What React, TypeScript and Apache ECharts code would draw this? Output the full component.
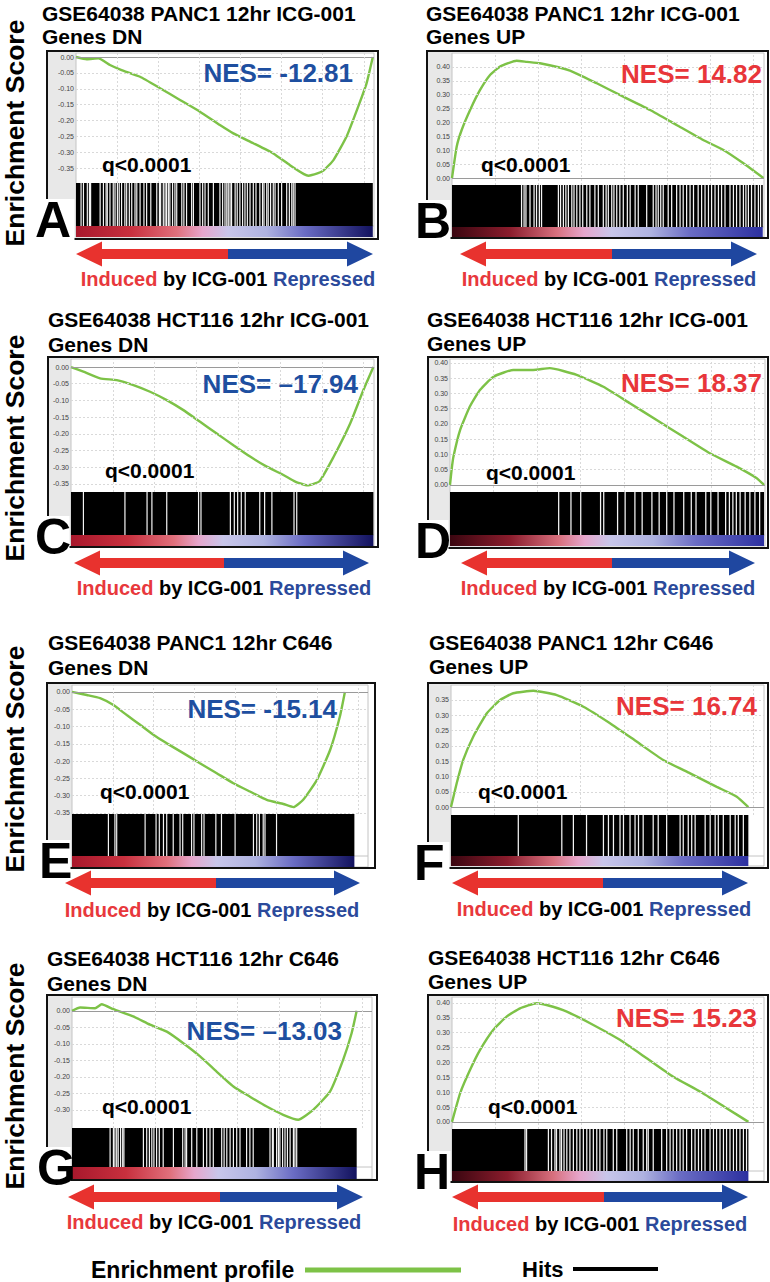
import React, { useEffect, useRef } from "react";
import * as echarts from "echarts";

// ---------------- data ----------------
const panelLetters = ["A", "B", "C", "D", "E", "F", "G", "H"];
const titleLine1 = [
  "GSE64038 PANC1 12hr ICG-001",
  "GSE64038 PANC1 12hr ICG-001",
  "GSE64038 HCT116 12hr ICG-001",
  "GSE64038 HCT116 12hr ICG-001",
  "GSE64038 PANC1 12hr C646",
  "GSE64038 PANC1 12hr C646",
  "GSE64038 HCT116 12hr C646",
  "GSE64038 HCT116 12hr C646",
];
const titleLine2 = ["Genes DN", "Genes UP", "Genes DN", "Genes UP", "Genes DN", "Genes UP", "Genes DN", "Genes UP"];
const nesLabels = [
  "NES= -12.81",
  "NES= 14.82",
  "NES= \u201317.94",
  "NES= 18.37",
  "NES= -15.14",
  "NES= 16.74",
  "NES= \u201313.03",
  "NES= 15.23",
];
const isUp = [false, true, false, true, false, true, false, true];
const qLabel = "q<0.0001";

// x = rank position in % of the plot frame, y = running enrichment score
const curveA = [[0,0],[3.6,-0.007],[7.5,-0.004],[11.4,-0.025],[15.3,-0.041],[21.5,-0.062],[28.2,-0.098],[34.9,-0.135],[41.6,-0.172],[48.3,-0.214],[52.8,-0.240],[59.5,-0.271],[66.2,-0.303],[71.8,-0.340],[76.5,-0.368],[78.0,-0.373],[81.0,-0.366],[83.0,-0.357],[86.4,-0.324],[90.8,-0.250],[94.7,-0.156],[97.5,-0.083],[99.6,0]];
const curveB = [[0,0],[1.5,0.113],[3.1,0.173],[5.8,0.245],[9.0,0.317],[12.2,0.371],[15.4,0.401],[20.7,0.422],[24,0.418],[28.2,0.413],[37.8,0.387],[46.4,0.341],[54.9,0.293],[63.5,0.245],[72.0,0.191],[80.5,0.137],[87.0,0.101],[93.4,0.053],[99.8,0]];
const curveC = [[0,0],[4.1,-0.014],[9.6,-0.034],[15.1,-0.039],[20.6,-0.054],[26.1,-0.074],[31.6,-0.099],[37.1,-0.129],[42.6,-0.164],[48.1,-0.199],[53.6,-0.234],[59.1,-0.268],[64.6,-0.298],[70.1,-0.323],[74.0,-0.343],[78.0,-0.354],[82.0,-0.342],[86.6,-0.270],[92.1,-0.170],[96.5,-0.069],[99.8,0]];
const curveD = [[0,0],[0.5,0.049],[1.1,0.093],[3.2,0.180],[6.3,0.257],[9.5,0.311],[13.8,0.355],[20.1,0.377],[26.4,0.377],[31.7,0.383],[40.2,0.361],[48.7,0.322],[57.1,0.268],[65.6,0.213],[74.1,0.158],[82.5,0.104],[91.0,0.060],[97.4,0.022],[99.7,0]];
const curveE = [[0,0],[5.0,-0.009],[9.5,-0.018],[14.0,-0.038],[18.5,-0.067],[23.0,-0.095],[27.5,-0.124],[31.9,-0.148],[37.6,-0.177],[43.2,-0.206],[48.9,-0.235],[54.5,-0.264],[60.1,-0.288],[65.8,-0.312],[71.4,-0.324],[74.8,-0.333],[78.1,-0.312],[82.7,-0.255],[87.2,-0.168],[90.5,-0.071],[92.2,0]];
const curveF = [[0,0],[1.8,0.077],[3.9,0.154],[7.1,0.230],[11.4,0.306],[15.7,0.350],[19.9,0.372],[26.3,0.380],[33.8,0.366],[42.3,0.328],[50.8,0.274],[59.3,0.214],[67.8,0.154],[76.4,0.110],[84.9,0.066],[91.3,0.034],[95.0,0]];
const curveG = [[0,0],[2.7,0.010],[7.7,0.008],[9.9,0.020],[13.8,0.005],[20.4,-0.017],[26.0,-0.042],[31.6,-0.063],[37.1,-0.098],[42.7,-0.138],[48.2,-0.184],[53.8,-0.229],[59.3,-0.260],[64.9,-0.290],[70.4,-0.315],[75.4,-0.330],[80.4,-0.300],[86.0,-0.245],[90.4,-0.148],[93.2,-0.068],[94.9,0]];
const curveH = [[0,0],[2.6,0.096],[5.8,0.175],[9.0,0.242],[13.2,0.309],[17.5,0.354],[21.8,0.382],[27.1,0.399],[30.3,0.393],[36.8,0.371],[45.3,0.326],[53.8,0.276],[62.4,0.214],[70.9,0.152],[79.5,0.102],[88.0,0.046],[95.0,0]];
const curves = [curveA, curveB, curveC, curveD, curveE, curveF, curveG, curveH];

// positions (% of frame) where the hit barcode has white gaps
const gapsA = [1.7,2.5,3.8,4.5,4.9,8.1,9.2,10.1,10.5,11.4,12.5,13.1,13.9,14.5,15.3,16.4,17.0,17.9,18.7,19.8,20.4,21.5,22.8,23.7,25.1,27.1,28.0,28.4,29.3,29.9,30.4,31.0,31.5,32.4,33.2,33.8,35.5,36.2,37.1,38.8,39.4,41.6,42.5,43.3,44.4,46.1,48.3,49.2,50.0,50.6,51.1,51.7,52.2,53.4,54.1,55.0,55.9,56.7,57.5,58.4,59.5,60.4,61.7,62.6,63.1,64.0,64.5,65.3,66.2,66.8,67.9,69.0,70.7,71.6,72.4,72.9,73.5];
const gapsB = [22.3,23.1,23.7,25.0,26.3,27.1,28.0,28.7,34.1,34.8,35.7,36.5,37.3,38.4,39.1,40.0,41.0,41.9,43.2,44.2,45.8,46.9,48.5,49.4,50.1,51.2,51.9,52.8,53.8,54.9,56.2,57.1,58.7,59.7,62.4,64.5,65.4,66.1,66.9,67.7,69.3,70.4,72.0,73.1,74.1,75.2,76.3,77.4,78.9,80.0,81.1,82.2,83.2,84.3,85.4,86.4,87.5,89.1,90.2,91.2,92.3,93.4,94.2,95.0,96.0,97.1,98.2,98.9];
const gapsC = [4.1,17.8,25.1,26.7,31.6,42.1,42.9,52.6,53.9,55.0,56.2,57.5,62.3,63.9,66.3,73.6,74.5];
const gapsD = [34.5,38.4,41.5,47.8,48.8,53.2,55.6,58.7,61.0,64.1,66.4,68.8,71.1,74.2,76.6,78.1,81.2,82.8,85.1,87.5,88.7,89.8,90.9,92.1,93.7,95.2,96.8,98.3];
const gapsE = [12.3,14.5,15.1,24.7,28.4,29.5,30.9,32.0,34.2,36.5,37.4,40.4,41.2,43.8,44.6,48.6,50.5,55.1,61.3,62.4,63.3,64.6,65.2,69.1];
const gapsF = [21.5,35.4,39.1,43.3,48.7,50.3,51.9,54.0,55.1,57.2,58.8,59.9,61.4,64.6,66.2,68.9,73.2,74.2,75.8,76.9,78.0,81.2,82.8,84.4,85.4,87.0,89.2,90.8,91.8,93.4];
const gapsG = [12.7,13.8,14.3,14.9,15.4,16.2,16.9,17.3,23.8,24.9,25.8,26.6,27.3,28.2,29.1,30.4,33.8,36.9,37.7,38.2,39.9,41.6,43.8,44.9,46.0,47.1,49.9,50.7,51.6,52.7,53.8,54.9,56.0,58.2,59.3,60.4,66.0,66.8,67.1,68.2,68.8,69.3,70.2,71.0,71.8,72.7,73.8,74.3,74.9];
const gapsH = [23.4,23.9,30.9,31.9,33.0,33.5,34.6,35.1,35.9,36.8,37.8,38.9,40.0,41.0,42.1,43.2,44.2,45.3,46.4,47.4,48.7,49.6,51.7,52.8,56.0,57.1,58.1,59.7,61.3,62.4,62.9,64.5,67.2,68.8,69.9,70.9,72.0,73.1,74.1,75.2,76.8,77.9,79.0,80.0,81.1,82.7,83.8,84.8,85.9,87.0,88.0,89.1,90.2,91.2,92.3,93.4,94.4];
const gaps = [gapsA, gapsB, gapsC, gapsD, gapsE, gapsF, gapsG, gapsH];

// end of ranked list (% of frame) and where the ranked-metric colour bar changes: pink, lavender, blue
const listEnd = [99.6, 99.6, 99.8, 99.7, 95.4, 95.0, 94.9, 95.0];
const metricBands = [[33.8,51.1,76.8],[33.5,51.2,76.3],[34.0,50.2,76.9],[34.6,50.8,78.1],[32.0,48.9,74.8],[32.7,48.7,74.2],[32.7,48.8,73.8],[32.5,49.6,73.1]];

// y tick labels
const ticksDN35 = [0, -0.05, -0.1, -0.15, -0.2, -0.25, -0.3, -0.35];
const ticksDN30 = [0, -0.05, -0.1, -0.15, -0.2, -0.25, -0.3];
const ticksUP40 = [0, 0.05, 0.1, 0.15, 0.2, 0.25, 0.3, 0.35, 0.4];
const ticksUP35 = [0, 0.05, 0.1, 0.15, 0.2, 0.25, 0.3, 0.35];
const yTicks = [ticksDN35, ticksUP40, ticksDN35, ticksUP40, ticksDN35, ticksUP35, ticksDN30, ticksUP40];
const xGridTicks = [13.8, 27.6, 41.4, 55.2, 69, 82.8, 96.6];
const yRange = [[-0.396,0.0126],[-0.025,0.45],[-0.374,0.024],[-0.023,0.413],[-0.353,0.02],[-0.026,0.399],[-0.355,0.042],[-0.024,0.42]];

// ---------------- layout (pixels) ----------------
// box: [x0,y0,x1,y1]; plot: [left, top, right, hitsTop, barTop, barBottom]
const layout = [
  { box: [47, 51, 378, 239], plot: [76, 53, 374, 183, 226, 237], title: [42, 12, 35], nes: [353, 72], q: [102, 163], letter: [35, 220], arrow: [76, 373, 254, 228], caption: [228, 278] },
  { box: [427, 51, 768, 238], plot: [452, 53, 764, 185, 227, 237], title: [426, 12, 35], nes: [762, 73], q: [481, 163], letter: [415, 221], arrow: [460, 757, 254, 612], caption: [609, 278] },
  { box: [48, 357, 378, 547], plot: [71, 359, 374, 492, 535, 546], title: [48, 318, 343], nes: [358, 383], q: [105, 469], letter: [35, 537], arrow: [74, 369, 563, 224], caption: [224, 587] },
  { box: [428, 357, 768, 548], plot: [450, 359, 765, 492, 535, 546], title: [427, 318, 342], nes: [762, 382], q: [486, 471], letter: [415, 541], arrow: [461, 755, 563, 612], caption: [608, 587] },
  { box: [47, 683, 375, 868], plot: [72, 685, 368, 814, 856, 867], title: [48, 641, 666], nes: [337, 708], q: [100, 790], letter: [39, 861], arrow: [65, 360, 883, 216], caption: [212, 909] },
  { box: [428, 683, 768, 868], plot: [451, 685, 764, 815, 856, 866], title: [429, 641, 665], nes: [757, 705], q: [478, 790], letter: [414, 863], arrow: [452, 748, 883, 603], caption: [604, 908] },
  { box: [47, 995, 377, 1180], plot: [72, 997, 372, 1128, 1167, 1179], title: [47, 957, 982], nes: [342, 1030], q: [102, 1105], letter: [37, 1168], arrow: [68, 363, 1197, 220], caption: [214, 1221] },
  { box: [428, 995, 768, 1182], plot: [452, 997, 764, 1129, 1171, 1181], title: [428, 956, 980], nes: [757, 1017], q: [488, 1105], letter: [414, 1172], arrow: [452, 748, 1197, 604], caption: [600, 1223] },
];
const esLabelCenters = [133, 448, 759, 1076];

const FONT = "'Liberation Sans', Arial, Helvetica, sans-serif";
const GREEN = "#7dc247";
const RED = "#e8363a";

function arrowPolys(x0: number, x1: number, y: number, mid: number) {
  const hl = 26, hh = 12.5, st = 5;
  const left = [[x0, y], [x0 + hl, y - hh], [x0 + hl, y - st], [mid, y - st], [mid, y + st], [x0 + hl, y + st], [x0 + hl, y + hh]];
  const right = [[x1, y], [x1 - hl, y - hh], [x1 - hl, y - st], [mid, y - st], [mid, y + st], [x1 - hl, y + st], [x1 - hl, y + hh]];
  return { left, right };
}

function buildOption() {
  const grid: any[] = [];
  const xAxis: any[] = [];
  const yAxis: any[] = [];
  const series: any[] = [];
  const graphic: any[] = [];

  layout.forEach((L, i) => {
    const [pl, pt, pr, ht, bt, bb] = L.plot;
    const w = pr - pl;
    grid.push({ left: pl, top: pt, width: w, height: ht - pt });
    grid.push({ left: pl, top: ht, width: w, height: bt - ht });
    grid.push({ left: pl, top: bt, width: w, height: bb - bt });
    for (let g = 0; g < 3; g++) {
      xAxis.push({ type: "value", gridIndex: i * 3 + g, min: 0, max: 100, show: false, splitLine: { show: false } });
      yAxis.push(
        g === 0
          ? { type: "value", gridIndex: i * 3, min: yRange[i][0], max: yRange[i][1], show: false, splitLine: { show: false } }
          : { type: "value", gridIndex: i * 3 + g, min: 0, max: 1, show: false, splitLine: { show: false } }
      );
    }
    // grid lines + tick labels
    series.push({
      type: "line",
      xAxisIndex: i * 3,
      yAxisIndex: i * 3,
      data: [],
      z: 1,
      silent: true,
      markLine: {
        silent: true,
        symbol: ["none", "none"],
        animation: false,
        lineStyle: { color: "#d9d9d9", type: [2, 2], width: 1 },
        label: { show: false },
        data: [
          ...yTicks[i].map((v) => ({
            yAxis: v,
            lineStyle: v === 0 ? { color: "#9a9a9a", type: "solid", width: 1.2 } : { color: "#d9d9d9", type: [2, 2], width: 1 },
            label: { show: true, position: "start", formatter: v.toFixed(2), fontSize: 7, color: "#444", distance: 2, fontFamily: FONT },
          })),
          ...xGridTicks.map((v) => ({ xAxis: v })),
        ],
      },
    });
    // running enrichment score
    series.push({
      type: "line",
      xAxisIndex: i * 3,
      yAxisIndex: i * 3,
      data: curves[i],
      showSymbol: false,
      symbol: "none",
      smooth: 0.15,
      lineStyle: { color: GREEN, width: 2.4 },
      z: 3,
      silent: true,
    });
    // hits barcode
    const hitData: number[][] = [[0, listEnd[i], 1]];
    gaps[i].forEach((p) => hitData.push([p - 0.2, p + 0.2, 0]));
    series.push({
      type: "custom",
      xAxisIndex: i * 3 + 1,
      yAxisIndex: i * 3 + 1,
      data: hitData,
      z: 4,
      silent: true,
      renderItem: (params: any, api: any) => {
        const a = api.coord([api.value(0), 1]);
        const b = api.coord([api.value(1), 0]);
        return {
          type: "rect",
          shape: { x: a[0], y: a[1], width: Math.max(b[0] - a[0], 0.7), height: b[1] - a[1] },
          style: { fill: api.value(2) ? "#000" : "#f4f4f4" },
        };
      },
    });
    // ranked metric colour bar
    const [p1, p2, p3] = metricBands[i];
    const end = listEnd[i];
    const up = isUp[i];
    const stops = [
      { offset: 0, color: up ? "#3a0610" : "#a8182c" },
      { offset: (p1 * 0.55) / end, color: up ? "#8a1c2c" : "#c8303e" },
      { offset: p1 / end, color: up ? "#d8707e" : "#e0707c" },
      { offset: ((p1 + p2) / 2) / end, color: "#e6a6cc" },
      { offset: p2 / end, color: "#c8c6ea" },
      { offset: ((p2 + p3) / 2) / end, color: "#aeb2e0" },
      { offset: p3 / end, color: "#6a6cc4" },
      { offset: 1, color: up ? "#2c30a0" : "#12125e" },
    ];
    series.push({
      type: "custom",
      xAxisIndex: i * 3 + 2,
      yAxisIndex: i * 3 + 2,
      data: [[0, end]],
      z: 4,
      silent: true,
      renderItem: (params: any, api: any) => {
        const a = api.coord([api.value(0), 1]);
        const b = api.coord([api.value(1), 0]);
        return {
          type: "rect",
          shape: { x: a[0], y: a[1], width: b[0] - a[0], height: b[1] - a[1] },
          style: { fill: new echarts.graphic.LinearGradient(0, 0, 1, 0, stops) },
        };
      },
    });

    // ---- graphic decorations ----
    const [bx0, by0, bx1, by1] = L.box;
    graphic.push({ type: "rect", z: 0, shape: { x: bx0, y: by0, width: pl - bx0, height: by1 - by0 }, style: { fill: "#e8e8e8" } });
    graphic.push({ type: "rect", z: 0, shape: { x: pl, y: pt, width: w, height: bb - pt }, style: { fill: "none", stroke: "#c4c4c4", lineWidth: 1 } });
    graphic.push({ type: "line", z: 0, shape: { x1: pl, y1: bt, x2: pr, y2: bt }, style: { stroke: "#c4c4c4", lineWidth: 1 } });
    graphic.push({ type: "rect", z: 50, shape: { x: bx0, y: by0, width: bx1 - bx0, height: by1 - by0 }, style: { fill: "none", stroke: "#111", lineWidth: 2 } });
    // letter with white backing
    const [lx, ly] = L.letter;
    graphic.push({ type: "rect", z: 60, shape: { x: lx - 1, y: ly - 21, width: pl - lx - 0.5, height: by1 - ly + 23 }, style: { fill: "#fff" } });
    graphic.push({ type: "text", z: 61, x: lx, y: ly, style: { text: panelLetters[i], fontSize: 50, fontWeight: "bold", fontFamily: FONT, fill: "#000", align: "left", verticalAlign: "middle" } });
    // titles
    graphic.push({ type: "text", z: 100, x: L.title[0], y: L.title[1] + 1, style: { text: titleLine1[i], fontSize: 21, fontWeight: "bold", fontFamily: FONT, fill: "#000", align: "left", verticalAlign: "middle" } });
    graphic.push({ type: "text", z: 100, x: L.title[0], y: L.title[2] + 1, style: { text: titleLine2[i], fontSize: 21, fontWeight: "bold", fontFamily: FONT, fill: "#000", align: "left", verticalAlign: "middle" } });
    // NES and q
    graphic.push({ type: "text", z: 100, x: L.nes[0], y: L.nes[1] + 1, style: { text: nesLabels[i], fontSize: 26, fontWeight: "bold", fontFamily: FONT, fill: up ? RED : "#1e4fa0", align: "right", verticalAlign: "middle" } });
    graphic.push({ type: "text", z: 100, x: L.q[0], y: L.q[1] + 1, style: { text: qLabel, fontSize: 21, fontWeight: "bold", fontFamily: FONT, fill: "#000", align: "left", verticalAlign: "middle" } });
    // arrow
    const [ax0, ax1, ay, am] = L.arrow;
    const ap = arrowPolys(ax0, ax1, ay, am);
    graphic.push({ type: "polygon", z: 100, shape: { points: ap.left }, style: { fill: "#e8322e" } });
    graphic.push({ type: "polygon", z: 100, shape: { points: ap.right }, style: { fill: "#1f47a0" } });
    // caption
    graphic.push({
      type: "text",
      z: 100,
      x: L.caption[0],
      y: L.caption[1] + 1,
      style: {
        text: "{r|Induced} {k|by ICG-001} {b|Repressed}",
        align: "center",
        verticalAlign: "middle",
        fontSize: 20,
        fontWeight: "bold",
        fontFamily: FONT,
        rich: {
          r: { fill: "#e8383c", fontSize: 20, fontWeight: "bold", fontFamily: FONT },
          k: { fill: "#000", fontSize: 20, fontWeight: "bold", fontFamily: FONT },
          b: { fill: "#2b4a9b", fontSize: 20, fontWeight: "bold", fontFamily: FONT },
        },
      },
    });
  });

  esLabelCenters.forEach((cy) => {
    graphic.push({ type: "text", z: 100, x: 15, y: cy, rotation: Math.PI / 2, style: { text: "Enrichment Score", fontSize: 26.5, fontWeight: "bold", fontFamily: FONT, fill: "#000", align: "center", verticalAlign: "middle" } });
  });

  // legend
  graphic.push({ type: "text", z: 100, x: 91, y: 1270, style: { text: "Enrichment profile", fontSize: 23, fontWeight: "bold", fontFamily: FONT, fill: "#000", align: "left", verticalAlign: "middle" } });
  graphic.push({ type: "line", z: 100, shape: { x1: 305, y1: 1270, x2: 461, y2: 1270 }, style: { stroke: GREEN, lineWidth: 5 } });
  graphic.push({ type: "text", z: 100, x: 522, y: 1269, style: { text: "Hits", fontSize: 22, fontWeight: "bold", fontFamily: FONT, fill: "#000", align: "left", verticalAlign: "middle" } });
  graphic.push({ type: "line", z: 100, shape: { x1: 573, y1: 1269, x2: 658, y2: 1269 }, style: { stroke: "#000", lineWidth: 4 } });

  return {
    animation: false,
    backgroundColor: "#fff",
    grid,
    xAxis,
    yAxis,
    series,
    graphic: { elements: graphic },
  };
}

export default function App() {
  const ref = useRef<HTMLDivElement>(null);
  useEffect(() => {
    document.body.style.margin = "0";
    if (!ref.current) return;
    const chart = echarts.init(ref.current, undefined, { renderer: "svg", width: 770, height: 1282 });
    chart.setOption(buildOption() as any);
    return () => chart.dispose();
  }, []);
  return <div ref={ref} style={{ position: "absolute", left: 0, top: 0, width: 770, height: 1282 }} />;
}
